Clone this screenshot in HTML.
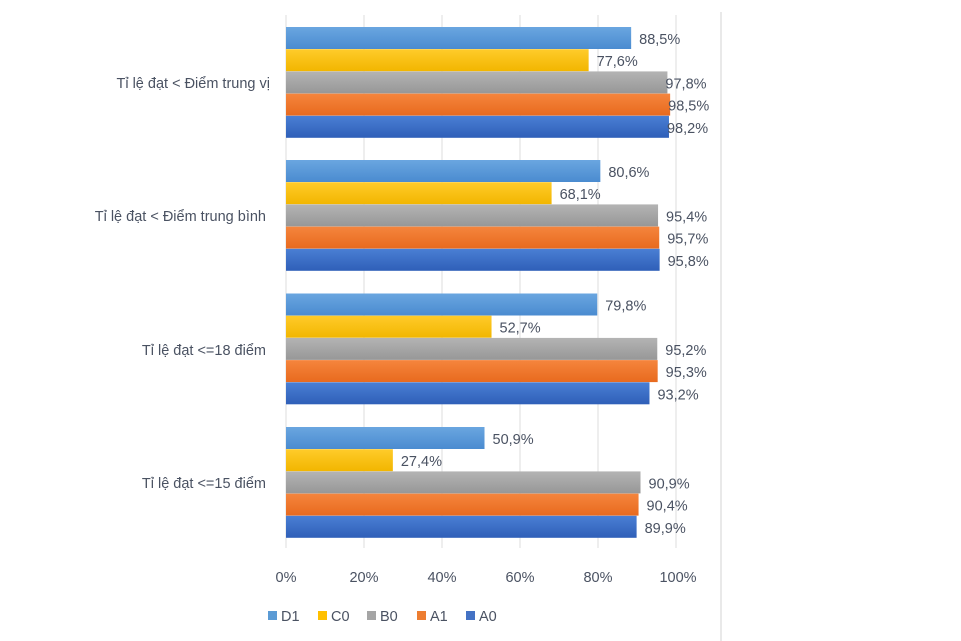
<!DOCTYPE html>
<html><head><meta charset="utf-8"><style>
html,body{margin:0;padding:0;background:#fff;}
svg{display:block;}
text{font-family:"Liberation Sans",sans-serif;fill:#4a5262;font-size:14.5px;}
</style></head><body>
<svg width="961" height="641" viewBox="0 0 961 641" xmlns="http://www.w3.org/2000/svg">
<defs>
<linearGradient id="gD" x1="0" y1="0" x2="0" y2="1"><stop offset="0" stop-color="#6aa6e0"/><stop offset="1" stop-color="#4a8bd0"/></linearGradient>
<linearGradient id="gC" x1="0" y1="0" x2="0" y2="1"><stop offset="0" stop-color="#ffcb2a"/><stop offset="1" stop-color="#f2b600"/></linearGradient>
<linearGradient id="gB" x1="0" y1="0" x2="0" y2="1"><stop offset="0" stop-color="#b4b4b4"/><stop offset="1" stop-color="#979797"/></linearGradient>
<linearGradient id="gA1" x1="0" y1="0" x2="0" y2="1"><stop offset="0" stop-color="#f5853d"/><stop offset="1" stop-color="#e86a1e"/></linearGradient>
<linearGradient id="gA0" x1="0" y1="0" x2="0" y2="1"><stop offset="0" stop-color="#4a7fd4"/><stop offset="1" stop-color="#2f5fb8"/></linearGradient>
</defs>
<line x1="721" y1="12" x2="721" y2="641" stroke="#e2e2e2" stroke-width="1.5"/>
<g stroke="#dcdcdc" stroke-width="1">
<line x1="286" y1="15" x2="286" y2="548"/><line x1="364" y1="15" x2="364" y2="548"/><line x1="442" y1="15" x2="442" y2="548"/><line x1="520" y1="15" x2="520" y2="548"/><line x1="598" y1="15" x2="598" y2="548"/><line x1="676" y1="15" x2="676" y2="548"/>
</g>
<g id="bars"></g>
<g id="lbl"></g>
<g text-anchor="middle">
<text x="286" y="582">0%</text><text x="364" y="582">20%</text><text x="442" y="582">40%</text><text x="520" y="582">60%</text><text x="598" y="582">80%</text><text x="678" y="582">100%</text>
</g>
<rect x="268" y="611" width="9" height="9" fill="#5b9bd5"/><text x="281" y="621">D1</text>
<rect x="318" y="611" width="9" height="9" fill="#ffc000"/><text x="331" y="621">C0</text>
<rect x="367" y="611" width="9" height="9" fill="#a5a5a5"/><text x="380" y="621">B0</text>
<rect x="417" y="611" width="9" height="9" fill="#ed7d31"/><text x="430" y="621">A1</text>
<rect x="466" y="611" width="9" height="9" fill="#4472c4"/><text x="479" y="621">A0</text>
<g text-anchor="end">
<text x="270" y="88">Tỉ lệ đạt &lt; Điểm trung vị</text>
<text x="266" y="221">Tỉ lệ đạt &lt; Điểm trung bình</text>
<text x="266" y="355">Tỉ lệ đạt &lt;=18 điểm</text>
<text x="266" y="488">Tỉ lệ đạt &lt;=15 điểm</text>
</g>
<script>
var data=[[88.5,77.6,97.8,98.5,98.2],[80.6,68.1,95.4,95.7,95.8],[79.8,52.7,95.2,95.3,93.2],[50.9,27.4,90.9,90.4,89.9]];
var tops=[27,160,293.5,427],fills=['gD','gC','gB','gA1','gA0'];
var b=document.getElementById('bars'),l=document.getElementById('lbl'),ns='http://www.w3.org/2000/svg';
data.forEach(function(g,i){g.forEach(function(v,j){var y=tops[i]+j*22.2,w=v*3.9;
var r=document.createElementNS(ns,'rect');r.setAttribute('x',286);r.setAttribute('y',y);r.setAttribute('width',w);r.setAttribute('height',22);r.setAttribute('fill','url(#'+fills[j]+')');b.appendChild(r);
var t=document.createElementNS(ns,'text');t.setAttribute('x',286+w+(v>96?-2:8));t.setAttribute('y',y+17);t.textContent=v.toFixed(1).replace('.',',')+'%';l.appendChild(t);});});
</script>
</svg>
</body></html>
